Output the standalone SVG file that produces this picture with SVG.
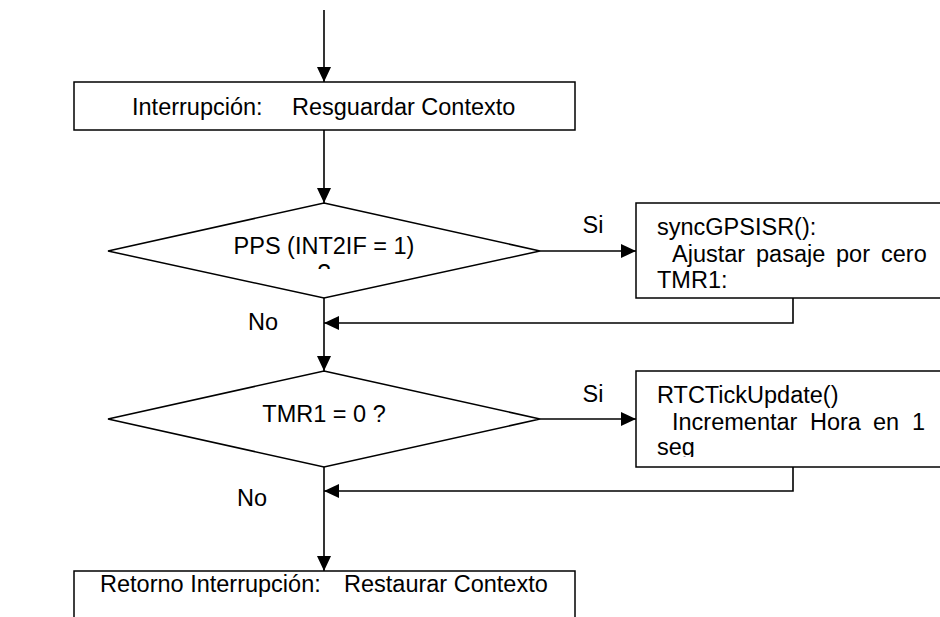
<svg xmlns="http://www.w3.org/2000/svg" width="940" height="617" viewBox="0 0 940 617">
  <style>
    .shape { fill: #ffffff; stroke: #000000; stroke-width: 1.5; }
    .wire { fill: none; stroke: #000000; stroke-width: 1.6; }
    text { font-family: "Liberation Sans", Arial, sans-serif; font-size: 23.5px; fill: #000000; }
    .mid { text-anchor: middle; }
  </style>
  <defs>
    <marker id="arrow" markerUnits="userSpaceOnUse" viewBox="0 0 15 14" markerWidth="15" markerHeight="14" refX="15" refY="7" orient="auto">
      <path d="M0,0 L15,7 L0,14 Z" fill="#000000"/>
    </marker>
    <clipPath id="clipPps"><rect x="100" y="200" width="450" height="69"/></clipPath>
    <clipPath id="clipTick"><rect x="636" y="371" width="310" height="86"/></clipPath>
  </defs>

  <!-- connectors -->
  <g id="connectors">
    <line class="wire" x1="324" y1="10" x2="324" y2="82" marker-end="url(#arrow)"/>
    <line class="wire" x1="324" y1="130" x2="324" y2="203" marker-end="url(#arrow)"/>
    <line class="wire" x1="540" y1="251" x2="636" y2="251" marker-end="url(#arrow)"/>
    <polyline class="wire" points="793,298 793,323 324,323" marker-end="url(#arrow)"/>
    <line class="wire" x1="324" y1="298" x2="324" y2="371" marker-end="url(#arrow)"/>
    <line class="wire" x1="540" y1="419" x2="636" y2="419" marker-end="url(#arrow)"/>
    <polyline class="wire" points="793,467 793,491 324,491" marker-end="url(#arrow)"/>
    <line class="wire" x1="324" y1="467" x2="324" y2="571" marker-end="url(#arrow)"/>
    <text x="593" y="233" class="mid">Si</text>
    <text x="263" y="330" class="mid">No</text>
    <text x="593" y="402" class="mid">Si</text>
    <text x="252" y="506" class="mid">No</text>
  </g>

  <!-- entry: save context -->
  <g id="saveContext">
    <rect class="shape" x="74" y="82" width="501" height="48"/>
    <text y="115"><tspan x="132">Interrupción:</tspan><tspan x="292">Resguardar Contexto</tspan></text>
  </g>

  <!-- decision: PPS pulse -->
  <g id="ppsDecision">
    <polygon class="shape" points="324,203 540,251 324,298 108,251"/>
    <g clip-path="url(#clipPps)">
      <text x="324" y="254" class="mid">PPS (INT2IF = 1)</text>
      <text x="324" y="281" class="mid">?</text>
    </g>
  </g>

  <!-- action: GPS sync -->
  <g id="syncGps">
    <rect class="shape" x="636" y="203" width="320" height="95"/>
    <text x="657" y="235">syncGPSISR():</text>
    <text y="262"><tspan x="672">Ajustar</tspan><tspan x="756">pasaje</tspan><tspan x="836">por</tspan><tspan x="881">cero</tspan></text>
    <text x="657" y="288">TMR1:</text>
  </g>

  <!-- decision: timer rollover -->
  <g id="tmrDecision">
    <polygon class="shape" points="324,371 540,419 324,467 108,419"/>
    <text x="324" y="422" class="mid">TMR1 = 0 ?</text>
  </g>

  <!-- action: RTC tick -->
  <g id="rtcTick">
    <rect class="shape" x="636" y="371" width="320" height="96"/>
    <text x="657" y="403">RTCTickUpdate()</text>
    <text y="430"><tspan x="672">Incrementar</tspan><tspan x="810">Hora</tspan><tspan x="873">en</tspan><tspan x="912">1</tspan></text>
    <g clip-path="url(#clipTick)">
      <text x="657" y="455">seg</text>
    </g>
  </g>

  <!-- exit: restore context -->
  <g id="restoreContext">
    <rect class="shape" x="74" y="571" width="501" height="60"/>
    <text y="592"><tspan x="100">Retorno Interrupción:</tspan><tspan x="344">Restaurar Contexto</tspan></text>
  </g>
</svg>
